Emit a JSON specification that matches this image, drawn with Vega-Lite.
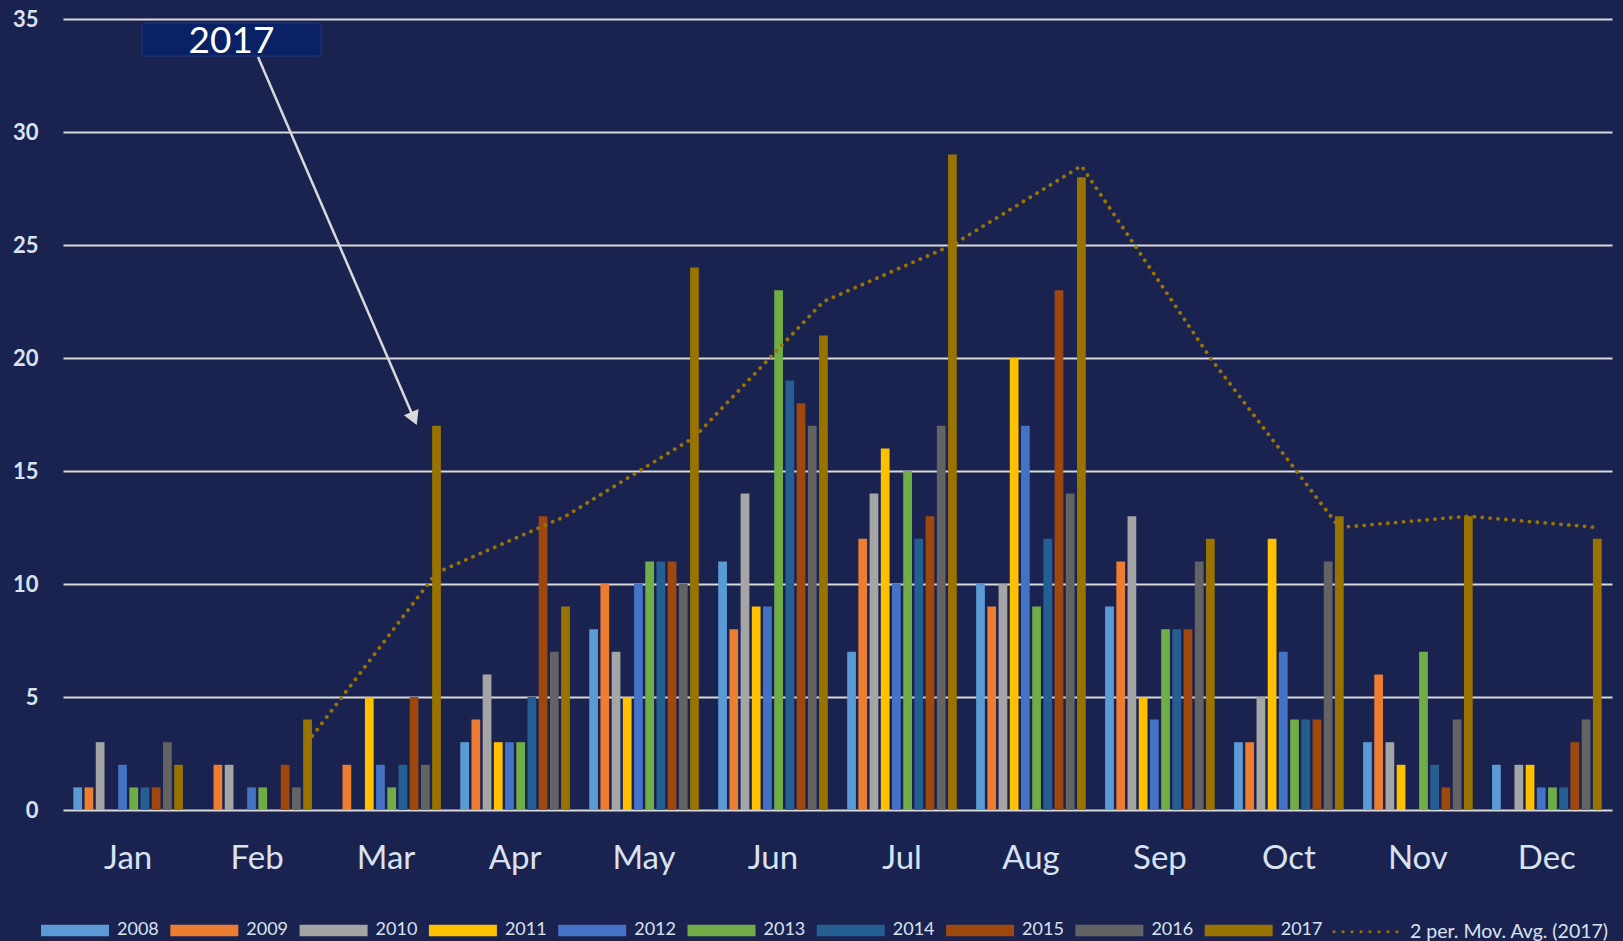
{
  "$schema": "https://vega.github.io/schema/vega-lite/v6.json",
  "width": 1549,
  "height": 791,
  "autosize": {"type": "none"},
  "padding": {"left": 63, "top": 19, "right": 11, "bottom": 131},
  "background": "#1a2250",
  "config": {"view": {"stroke": null}, "font": "Lato"},
  "datasets": {
    "counts": [
      {"month": "Jan", "year": "2008", "count": 1}, {"month": "Jan", "year": "2009", "count": 1}, {"month": "Jan", "year": "2010", "count": 3}, {"month": "Jan", "year": "2011", "count": 0}, {"month": "Jan", "year": "2012", "count": 2}, {"month": "Jan", "year": "2013", "count": 1}, {"month": "Jan", "year": "2014", "count": 1}, {"month": "Jan", "year": "2015", "count": 1}, {"month": "Jan", "year": "2016", "count": 3}, {"month": "Jan", "year": "2017", "count": 2},
      {"month": "Feb", "year": "2008", "count": 0}, {"month": "Feb", "year": "2009", "count": 2}, {"month": "Feb", "year": "2010", "count": 2}, {"month": "Feb", "year": "2011", "count": 0}, {"month": "Feb", "year": "2012", "count": 1}, {"month": "Feb", "year": "2013", "count": 1}, {"month": "Feb", "year": "2014", "count": 0}, {"month": "Feb", "year": "2015", "count": 2}, {"month": "Feb", "year": "2016", "count": 1}, {"month": "Feb", "year": "2017", "count": 4},
      {"month": "Mar", "year": "2008", "count": 0}, {"month": "Mar", "year": "2009", "count": 2}, {"month": "Mar", "year": "2010", "count": 0}, {"month": "Mar", "year": "2011", "count": 5}, {"month": "Mar", "year": "2012", "count": 2}, {"month": "Mar", "year": "2013", "count": 1}, {"month": "Mar", "year": "2014", "count": 2}, {"month": "Mar", "year": "2015", "count": 5}, {"month": "Mar", "year": "2016", "count": 2}, {"month": "Mar", "year": "2017", "count": 17},
      {"month": "Apr", "year": "2008", "count": 3}, {"month": "Apr", "year": "2009", "count": 4}, {"month": "Apr", "year": "2010", "count": 6}, {"month": "Apr", "year": "2011", "count": 3}, {"month": "Apr", "year": "2012", "count": 3}, {"month": "Apr", "year": "2013", "count": 3}, {"month": "Apr", "year": "2014", "count": 5}, {"month": "Apr", "year": "2015", "count": 13}, {"month": "Apr", "year": "2016", "count": 7}, {"month": "Apr", "year": "2017", "count": 9},
      {"month": "May", "year": "2008", "count": 8}, {"month": "May", "year": "2009", "count": 10}, {"month": "May", "year": "2010", "count": 7}, {"month": "May", "year": "2011", "count": 5}, {"month": "May", "year": "2012", "count": 10}, {"month": "May", "year": "2013", "count": 11}, {"month": "May", "year": "2014", "count": 11}, {"month": "May", "year": "2015", "count": 11}, {"month": "May", "year": "2016", "count": 10}, {"month": "May", "year": "2017", "count": 24},
      {"month": "Jun", "year": "2008", "count": 11}, {"month": "Jun", "year": "2009", "count": 8}, {"month": "Jun", "year": "2010", "count": 14}, {"month": "Jun", "year": "2011", "count": 9}, {"month": "Jun", "year": "2012", "count": 9}, {"month": "Jun", "year": "2013", "count": 23}, {"month": "Jun", "year": "2014", "count": 19}, {"month": "Jun", "year": "2015", "count": 18}, {"month": "Jun", "year": "2016", "count": 17}, {"month": "Jun", "year": "2017", "count": 21},
      {"month": "Jul", "year": "2008", "count": 7}, {"month": "Jul", "year": "2009", "count": 12}, {"month": "Jul", "year": "2010", "count": 14}, {"month": "Jul", "year": "2011", "count": 16}, {"month": "Jul", "year": "2012", "count": 10}, {"month": "Jul", "year": "2013", "count": 15}, {"month": "Jul", "year": "2014", "count": 12}, {"month": "Jul", "year": "2015", "count": 13}, {"month": "Jul", "year": "2016", "count": 17}, {"month": "Jul", "year": "2017", "count": 29},
      {"month": "Aug", "year": "2008", "count": 10}, {"month": "Aug", "year": "2009", "count": 9}, {"month": "Aug", "year": "2010", "count": 10}, {"month": "Aug", "year": "2011", "count": 20}, {"month": "Aug", "year": "2012", "count": 17}, {"month": "Aug", "year": "2013", "count": 9}, {"month": "Aug", "year": "2014", "count": 12}, {"month": "Aug", "year": "2015", "count": 23}, {"month": "Aug", "year": "2016", "count": 14}, {"month": "Aug", "year": "2017", "count": 28},
      {"month": "Sep", "year": "2008", "count": 9}, {"month": "Sep", "year": "2009", "count": 11}, {"month": "Sep", "year": "2010", "count": 13}, {"month": "Sep", "year": "2011", "count": 5}, {"month": "Sep", "year": "2012", "count": 4}, {"month": "Sep", "year": "2013", "count": 8}, {"month": "Sep", "year": "2014", "count": 8}, {"month": "Sep", "year": "2015", "count": 8}, {"month": "Sep", "year": "2016", "count": 11}, {"month": "Sep", "year": "2017", "count": 12},
      {"month": "Oct", "year": "2008", "count": 3}, {"month": "Oct", "year": "2009", "count": 3}, {"month": "Oct", "year": "2010", "count": 5}, {"month": "Oct", "year": "2011", "count": 12}, {"month": "Oct", "year": "2012", "count": 7}, {"month": "Oct", "year": "2013", "count": 4}, {"month": "Oct", "year": "2014", "count": 4}, {"month": "Oct", "year": "2015", "count": 4}, {"month": "Oct", "year": "2016", "count": 11}, {"month": "Oct", "year": "2017", "count": 13},
      {"month": "Nov", "year": "2008", "count": 3}, {"month": "Nov", "year": "2009", "count": 6}, {"month": "Nov", "year": "2010", "count": 3}, {"month": "Nov", "year": "2011", "count": 2}, {"month": "Nov", "year": "2012", "count": 0}, {"month": "Nov", "year": "2013", "count": 7}, {"month": "Nov", "year": "2014", "count": 2}, {"month": "Nov", "year": "2015", "count": 1}, {"month": "Nov", "year": "2016", "count": 4}, {"month": "Nov", "year": "2017", "count": 13},
      {"month": "Dec", "year": "2008", "count": 2}, {"month": "Dec", "year": "2009", "count": 0}, {"month": "Dec", "year": "2010", "count": 2}, {"month": "Dec", "year": "2011", "count": 2}, {"month": "Dec", "year": "2012", "count": 1}, {"month": "Dec", "year": "2013", "count": 1}, {"month": "Dec", "year": "2014", "count": 1}, {"month": "Dec", "year": "2015", "count": 3}, {"month": "Dec", "year": "2016", "count": 4}, {"month": "Dec", "year": "2017", "count": 12}
    ],
    "movavg": [
      {"m": 2, "month": "Feb", "year": "2017", "avg": 3},
      {"m": 3, "month": "Mar", "year": "2017", "avg": 10.5},
      {"m": 4, "month": "Apr", "year": "2017", "avg": 13},
      {"m": 5, "month": "May", "year": "2017", "avg": 16.5},
      {"m": 6, "month": "Jun", "year": "2017", "avg": 22.5},
      {"m": 7, "month": "Jul", "year": "2017", "avg": 25},
      {"m": 8, "month": "Aug", "year": "2017", "avg": 28.5},
      {"m": 9, "month": "Sep", "year": "2017", "avg": 20},
      {"m": 10, "month": "Oct", "year": "2017", "avg": 12.5},
      {"m": 11, "month": "Nov", "year": "2017", "avg": 13},
      {"m": 12, "month": "Dec", "year": "2017", "avg": 12.5}
    ]
  },
  "layer": [
    {
      "layer": [
        {
          "data": {"name": "counts"},
          "mark": {"type": "bar"},
          "encoding": {
            "x": {
              "field": "month", "type": "nominal", "title": null,
              "scale": {"domain": ["Jan", "Feb", "Mar", "Apr", "May", "Jun", "Jul", "Aug", "Sep", "Oct", "Nov", "Dec"], "paddingInner": 0.131, "paddingOuter": 0.0706},
              "axis": {"domain": false, "ticks": false, "grid": false, "labelFont": "Lato", "labelFontSize": 33, "labelColor": "#d9e2f0", "labelPadding": 32, "labelAngle": 0}
            },
            "xOffset": {
              "field": "year", "type": "nominal",
              "scale": {"domain": ["2008", "2009", "2010", "2011", "2012", "2013", "2014", "2015", "2016", "2017"], "paddingInner": 0.22, "paddingOuter": 0.11}
            },
            "y": {
              "field": "count", "type": "quantitative", "title": null,
              "scale": {"domain": [0, 35], "nice": false},
              "axis": {"values": [0, 5, 10, 15, 20, 25, 30, 35], "domain": false, "ticks": false, "grid": true, "gridColor": "#d9d9d9", "gridWidth": 2, "labelFont": "Lato", "labelFontWeight": "bold", "labelFontSize": 22, "labelColor": "#d9e2f0", "labelPadding": 25}
            },
            "color": {
              "field": "year", "type": "nominal",
              "scale": {
                "domain": ["2008", "2009", "2010", "2011", "2012", "2013", "2014", "2015", "2016", "2017", "2 per. Mov. Avg. (2017)"],
                "range": ["#5b9bd5", "#ed7d31", "#a5a5a5", "#ffc000", "#4472c4", "#70ad47", "#255e91", "#9e480e", "#636363", "#997300", "#997300"]
              },
              "legend": {
                "orient": "none", "legendX": -24, "legendY": 875, "direction": "horizontal", "columns": 11, "title": null,
                "symbolType": "M-1,-0.17H1V0.17H-1Z", "symbolSize": 4624, "symbolStrokeWidth": 3.2,
                "labelFont": "Lato", "labelFontSize": 18, "labelColor": "#d9e2f0", "labelOffset": 6, "labelLimit": 400,
                "columnPadding": 4.3, "padding": 0, "offset": 0,
                "encode": {
                  "symbols": {
                    "update": {
                      "shape": {"signal": "(datum.value === '2 per. Mov. Avg. (2017)' ? 'M-1,0H0.86' : 'M-1,-0.17H1V0.17H-1Z')"},
                      "fill": {"signal": "(datum.value === '2 per. Mov. Avg. (2017)' ? 'transparent' : scale('color', datum.value))"},
                      "stroke": {"signal": "(datum.value === '2 per. Mov. Avg. (2017)' ? '#997300' : 'transparent')"},
                      "strokeWidth": {"value": 3.2},
                      "strokeDash": {"signal": "(datum.value === '2 per. Mov. Avg. (2017)' ? [0.1, 8.9] : [])"},
                      "strokeCap": {"value": "round"},
                      "opacity": {"value": 1}
                    }
                  },
                  "labels": {
                    "update": {
                      "fontSize": {"signal": "(datum.value === '2 per. Mov. Avg. (2017)' ? 19.5 : 18)"}
                    }
                  }
                }
              }
            }
          }
        },
        {
          "data": {"name": "movavg"},
          "mark": {"type": "line", "color": "#9a7400", "strokeWidth": 3.8, "strokeCap": "round", "strokeDash": [0.1, 7.8]},
          "encoding": {
            "x": {"field": "month", "type": "nominal", "title": null},
            "xOffset": {"field": "year", "type": "nominal"},
            "y": {"field": "avg", "type": "quantitative", "title": null, "scale": {"domain": [0, 35], "nice": false}},
            "order": {"field": "m", "type": "quantitative"}
          }
        }
      ]
    },
    {
      "layer": [
        {
          "data": {"values": [{"xs": 1.511, "ys": 33.32, "xe": 2.719, "ye": 17.32}]},
          "mark": {"type": "rule", "color": "#d9d9d9", "strokeWidth": 2.5},
          "encoding": {
            "x": {"field": "xs", "type": "quantitative", "title": null, "axis": null, "scale": {"domain": [0, 12], "nice": false, "zero": false}},
            "x2": {"field": "xe"},
            "y": {"field": "ys", "type": "quantitative", "title": null, "scale": {"domain": [0, 35], "nice": false}},
            "y2": {"field": "ye"}
          }
        },
        {
          "data": {"values": [{"hx": 2.719, "hy": 17.32}]},
          "mark": {"type": "point", "shape": "triangle-up", "size": 256, "angle": 156.7, "filled": true, "color": "#d9d9d9", "opacity": 1},
          "encoding": {
            "x": {"field": "hx", "type": "quantitative", "title": null, "axis": null},
            "y": {"field": "hy", "type": "quantitative", "title": null}
          }
        },
        {
          "data": {"values": [{"bx": 0.612, "bx2": 2.0, "by": 34.82, "by2": 33.36}]},
          "mark": {"type": "rect", "fill": "#0a2166", "stroke": "#243a7a", "strokeWidth": 1, "cornerRadius": 3},
          "encoding": {
            "x": {"field": "bx", "type": "quantitative", "title": null, "axis": null},
            "x2": {"field": "bx2"},
            "y": {"field": "by", "type": "quantitative", "title": null},
            "y2": {"field": "by2"}
          }
        },
        {
          "data": {"values": [{"tx": 1.305, "ty": 33.5, "label": "2017"}]},
          "mark": {"type": "text", "font": "Lato", "fontSize": 37, "color": "#ffffff", "align": "center", "baseline": "alphabetic"},
          "encoding": {
            "x": {"field": "tx", "type": "quantitative", "title": null, "axis": null},
            "y": {"field": "ty", "type": "quantitative", "title": null},
            "text": {"field": "label"}
          }
        }
      ]
    }
  ],
  "resolve": {"scale": {"x": "independent"}}
}
